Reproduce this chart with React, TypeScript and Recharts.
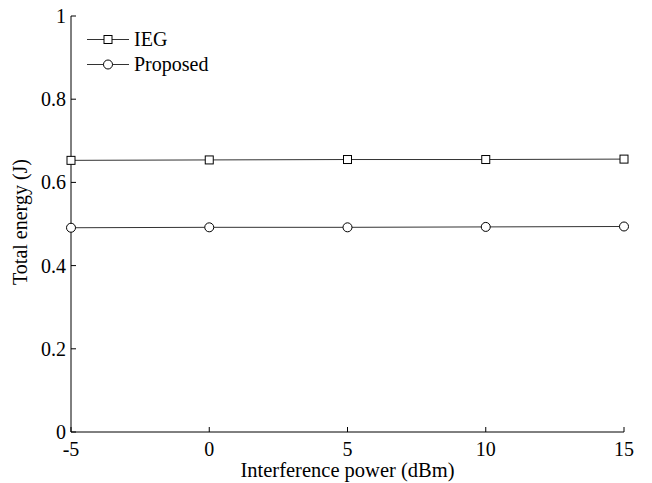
import React from 'react';
import { Legend, Line, LineChart, XAxis, YAxis } from 'recharts';

const powers = [-5, 0, 5, 10, 15];
const iegEnergy = [0.653, 0.654, 0.655, 0.655, 0.656];
const proposedEnergy = [0.491, 0.492, 0.492, 0.493, 0.494];
const xTicks = [-5, 0, 5, 10, 15];
const yTicks = [0, 0.2, 0.4, 0.6, 0.8, 1];

const data = powers.map((p, i) => ({
  power: p,
  ieg: iegEnergy[i],
  proposed: proposedEnergy[i],
}));

const FONT = '"Liberation Serif", "Times New Roman", serif';
const LINE_COLOR = '#333';
const TICK_LEN = 5;

const BottomTick = (props: any) => {
  const { x, y, payload } = props;
  return (
    <g>
      <line x1={x} x2={x} y1={y} y2={y - TICK_LEN} stroke="#000" />
      <text x={x} y={y + 24} textAnchor="middle" fontFamily={FONT} fontSize={20} fill="#000">
        {payload.value}
      </text>
    </g>
  );
};

const TopTick = (props: any) => {
  const { x, y } = props;
  return <line x1={x} x2={x} y1={y} y2={y + TICK_LEN} stroke="#000" />;
};

const LeftTick = (props: any) => {
  const { x, y, payload } = props;
  return (
    <g>
      <line x1={x} x2={x + TICK_LEN} y1={y} y2={y} stroke="#000" />
      <text x={x - 5} y={y + 7} textAnchor="end" fontFamily={FONT} fontSize={20} fill="#000">
        {String(payload.value)}
      </text>
    </g>
  );
};

const RightTick = (props: any) => {
  const { x, y } = props;
  return <line x1={x} x2={x - TICK_LEN} y1={y} y2={y} stroke="#000" />;
};

const SquareDot = (props: any) => {
  const { cx, cy } = props;
  return <rect x={cx - 4} y={cy - 4} width={8} height={8} fill="#fff" stroke="#000" />;
};

const CircleDot = (props: any) => {
  const { cx, cy } = props;
  return <circle cx={cx} cy={cy} r={4.5} fill="#fff" stroke="#000" />;
};

const legendItems = [
  { name: 'IEG', marker: 'square' },
  { name: 'Proposed', marker: 'circle' },
];

const renderLegend = () => (
  <div style={{ fontFamily: FONT, fontSize: 20, color: '#000' }}>
    {legendItems.map((item) => (
      <div key={item.name} style={{ display: 'flex', alignItems: 'center', height: 25 }}>
        <svg width={48} height={25}>
          <line x1={1} x2={43} y1={12.5} y2={12.5} stroke={LINE_COLOR} />
          {item.marker === 'square' ? (
            <rect x={18} y={8.5} width={8} height={8} fill="#fff" stroke="#000" />
          ) : (
            <circle cx={22} cy={12.5} r={4.5} fill="#fff" stroke="#000" />
          )}
        </svg>
        <span>{item.name}</span>
      </div>
    ))}
  </div>
);

const YLabel = (props: any) => {
  const { viewBox } = props;
  const x = viewBox.x + 27;
  const y = viewBox.y + viewBox.height / 2 - 2;
  return (
    <text
      x={x}
      y={y}
      transform={`rotate(-90, ${x}, ${y})`}
      textAnchor="middle"
      fontFamily={FONT}
      fontSize={20}
      fill="#000"
    >
      Total energy (J)
    </text>
  );
};

export default function App() {
  return (
    <div style={{ position: 'absolute', left: 0, top: 0, background: '#fff' }}>
      <LineChart
        width={652}
        height={483}
        data={data}
        margin={{ top: 16, right: 28, left: 0, bottom: 0 }}
      >
        <XAxis
          dataKey="power"
          type="number"
          domain={[-5, 15]}
          ticks={xTicks}
          height={51}
          tickSize={0}
          tickMargin={0}
          tickLine={false}
          axisLine={{ stroke: '#000' }}
          tick={<BottomTick />}
          label={{
            value: 'Interference power (dBm)',
            position: 'insideBottom',
            offset: 6,
            fontFamily: FONT,
            fontSize: 20.5,
            fill: '#000',
          }}
        />
        <XAxis
          xAxisId="top"
          orientation="top"
          dataKey="power"
          type="number"
          domain={[-5, 15]}
          ticks={xTicks}
          height={0}
          tickSize={0}
          tickMargin={0}
          tickLine={false}
          axisLine={{ stroke: '#000' }}
          tick={<TopTick />}
        />
        <YAxis
          type="number"
          domain={[0, 1]}
          ticks={yTicks}
          width={71}
          tickSize={0}
          tickMargin={0}
          tickLine={false}
          axisLine={{ stroke: '#000' }}
          tick={<LeftTick />}
          label={{ content: <YLabel /> }}
        />
        <YAxis
          yAxisId="right"
          orientation="right"
          type="number"
          domain={[0, 1]}
          ticks={yTicks}
          width={0}
          tickSize={0}
          tickMargin={0}
          tickLine={false}
          axisLine={{ stroke: '#000' }}
          tick={<RightTick />}
        />
        <Legend
          layout="vertical"
          align="center"
          verticalAlign="middle"
          content={renderLegend}
          wrapperStyle={{ top: 27, left: 86, width: 'auto', height: 'auto' }}
        />
        <Line
          type="linear"
          dataKey="ieg"
          name="IEG"
          stroke={LINE_COLOR}
          strokeWidth={1}
          dot={<SquareDot />}
          activeDot={false}
          isAnimationActive={false}
        />
        <Line
          type="linear"
          dataKey="proposed"
          name="Proposed"
          stroke={LINE_COLOR}
          strokeWidth={1}
          dot={<CircleDot />}
          activeDot={false}
          isAnimationActive={false}
        />
      </LineChart>
    </div>
  );
}
